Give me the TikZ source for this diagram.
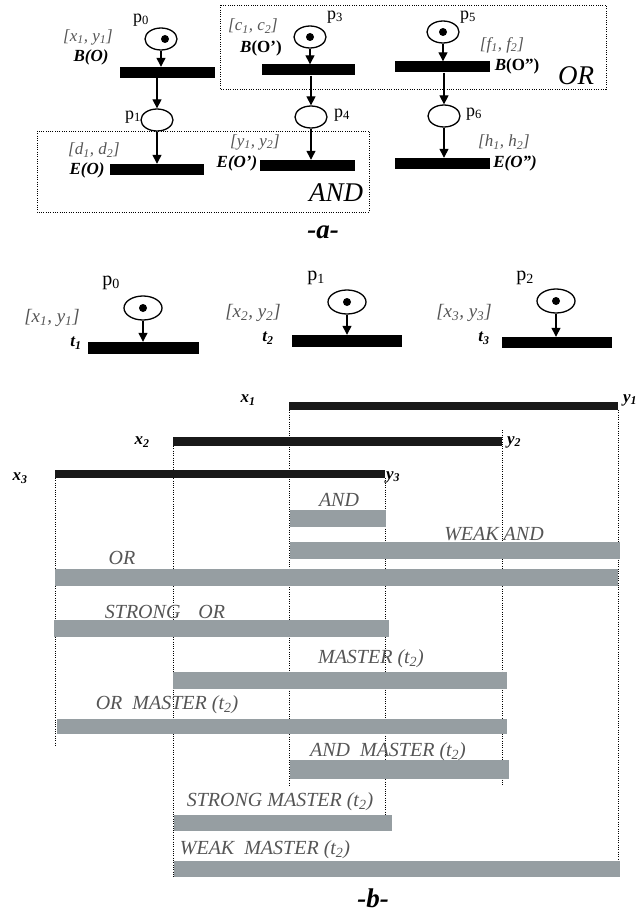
\documentclass[tikz,border=0pt]{standalone}
\usepackage{fontspec}
\setmainfont{Liberation Serif}
\usetikzlibrary{shapes.geometric,arrows.meta}
\definecolor{barg}{RGB}{150,158,162}
\definecolor{lblg}{RGB}{85,85,85}
\tikzset{
 place/.style={draw, ellipse, line width=1.3pt, minimum width=32pt, minimum height=22pt, inner sep=0pt},
 bplace/.style={place, minimum width=38pt, minimum height=24pt},
 token/.style={circle, fill=black, minimum size=8pt, inner sep=0pt},
 trans/.style={fill=black, rectangle, inner sep=0pt},
 arc/.style={-{Triangle[length=9pt,width=9pt]}, line width=1.3pt},
 plab/.style={font=\fontsize{18}{20}\selectfont, inner sep=0pt},
 bplab/.style={font=\fontsize{20}{22}\selectfont, inner sep=0pt},
 ilab/.style={font=\fontsize{17}{19}\selectfont\itshape, text=lblg, inner sep=0pt},
 bilab/.style={font=\fontsize{19}{21}\selectfont\itshape, text=lblg, inner sep=0pt},
 blab/.style={font=\fontsize{17}{19}\selectfont\bfseries\itshape, inner sep=0pt},
 xlab/.style={font=\fontsize{17}{19}\selectfont\bfseries\itshape, inner sep=0pt},
 dotbox/.style={dash pattern=on 1pt off 1.3pt, line width=0.9pt},
 vdot/.style={dash pattern=on 1pt off 1.3pt, line width=0.9pt},
 gbar/.style={fill=barg},
 kbar/.style={fill=black!90},
 glab/.style={font=\fontsize{20}{22}\selectfont\itshape, text=lblg, inner sep=0pt},
 biglab/.style={font=\fontsize{27}{29}\selectfont\itshape, inner sep=0pt},
 figcap/.style={font=\fontsize{27}{29}\selectfont\bfseries\itshape, inner sep=0pt},
}
\begin{document}
\begin{tikzpicture}[x=1pt,y=-1pt]
\useasboundingbox (0,0) rectangle (637,915);
\clip (0,0) rectangle (637,915);
% ---------------- part a ----------------
\draw[dotbox] (220,5) rectangle (606,89);
\draw[dotbox] (37,131) rectangle (369,212);
% places
\node[place] (p0) at (161,39) {};
\node[token] (k0) at (165,39) {};
\node[place] (p1) at (157,120) {};
\node[place] (p3) at (310,37) {};
\node[token] (k3) at (310,37) {};
\node[place] (p4) at (311,117) {};
\node[place] (p5) at (443,32) {};
\node[token] (k5) at (443,32) {};
\node[place] (p6) at (444,116) {};
% transitions
\node[trans, minimum width=95pt, minimum height=11pt] (tBO) at (167.5,72.5) {};
\node[trans, minimum width=94pt, minimum height=11pt] (tEO) at (157,169.5) {};
\node[trans, minimum width=93pt, minimum height=11pt] (tBO1) at (308.5,70) {};
\node[trans, minimum width=95pt, minimum height=11pt] (tEO1) at (307.5,165.5) {};
\node[trans, minimum width=95pt, minimum height=11pt] (tBO2) at (442.5,67) {};
\node[trans, minimum width=95pt, minimum height=11pt] (tEO2) at (442.5,163.5) {};
% arcs
\draw[arc] (p0.south) -- (p0.south |- tBO.north);
\draw[arc] (p1.north |- tBO.south) -- (p1.north);
\draw[arc] (p1.south) -- (p1.south |- tEO.north);
\draw[arc] (p3.south) -- (p3.south |- tBO1.north);
\draw[arc] (p4.north |- tBO1.south) -- (p4.north);
\draw[arc] (p4.south) -- (p4.south |- tEO1.north);
\draw[arc] (p5.south) -- (p5.south |- tBO2.north);
\draw[arc] (p6.north |- tBO2.south) -- (p6.north);
\draw[arc] (p6.south) -- (p6.south |- tEO2.north);
% labels
\node[plab] (lp0) at (141,20) {p\textsubscript{0}};
\node[plab] (lp1) at (133,117) {p\textsubscript{1}};
\node[plab] (lp3) at (335,17) {p\textsubscript{3}};
\node[plab] (lp4) at (342,115) {p\textsubscript{4}};
\node[plab] (lp5) at (468,17) {p\textsubscript{5}};
\node[plab] (lp6) at (474,114) {p\textsubscript{6}};
\node[ilab] (ix1) at (88,37) {[x\textsubscript{1}, y\textsubscript{1}]};
\node[blab] (bo) at (91,57) {B(O)};
\node[ilab] (id1) at (94,150) {[d\textsubscript{1}, d\textsubscript{2}]};
\node[blab] (eo) at (87,170) {E(O)};
\node[ilab] (ic1) at (253,26) {[c\textsubscript{1}, c\textsubscript{2}]};
\node[blab] (bo1) at (261,48) {B\upshape(O’)};
\node[ilab] (iy1) at (255,142) {[y\textsubscript{1}, y\textsubscript{2}]};
\node[blab] (eo1) at (237,163) {E(O’)};
\node[ilab] (if1) at (502,45) {[f\textsubscript{1}, f\textsubscript{2}]};
\node[blab] (bo2) at (517,66) {B\upshape(O”)};
\node[ilab] (ih1) at (504,142) {[h\textsubscript{1}, h\textsubscript{2}]};
\node[blab] (eo2) at (515,163) {E(O”)};
\node[biglab] (orl) at (576,76) {OR};
\node[biglab] (andl) at (336,193) {AND};
\node[figcap] (capa) at (323,232) {-a-};
% ---------------- part b top ----------------
\node[bplace] (q0) at (143,308) {};
\node[token] (m0) at (143,308) {};
\node[bplace] (q1) at (347,302) {};
\node[token] (m1) at (347,302) {};
\node[bplace] (q2) at (556,301) {};
\node[token] (m2) at (556,301) {};
\node[trans, minimum width=111pt, minimum height=12pt] (t1) at (143.5,348) {};
\node[trans, minimum width=110pt, minimum height=12pt] (t2) at (347,341) {};
\node[trans, minimum width=110pt, minimum height=11pt] (t3) at (557,342.5) {};
\draw[arc] (q0.south) -- (q0.south |- t1.north);
\draw[arc] (q1.south) -- (q1.south |- t2.north);
\draw[arc] (q2.south) -- (q2.south |- t3.north);
\node[bplab] (lq0) at (111,283) {p\textsubscript{0}};
\node[bplab] (lq1) at (316,278) {p\textsubscript{1}};
\node[bplab] (lq2) at (525,278) {p\textsubscript{2}};
\node[bilab] (jx1) at (52,318) {[x\textsubscript{1}, y\textsubscript{1}]};
\node[xlab] (lt1) at (76,343) {t\textsubscript{1}};
\node[bilab] (jx2) at (253,313) {[x\textsubscript{2}, y\textsubscript{2}]};
\node[xlab] (lt2) at (268,338) {t\textsubscript{2}};
\node[bilab] (jx3) at (464,313) {[x\textsubscript{3}, y\textsubscript{3}]};
\node[xlab] (lt3) at (484,338) {t\textsubscript{3}};
% ---------------- part b timeline ----------------
\draw[vdot] (55,478) -- (55,745);
\draw[vdot] (173,446) -- (173,877);
\draw[vdot] (289,410) -- (289,787);
\draw[vdot] (385,478) -- (385,815);
\draw[vdot] (502,430) -- (502,785);
\draw[vdot] (618,410) -- (618,861);
\fill[kbar] (289,402) rectangle (618,410);
\fill[kbar] (173,437) rectangle (502,446);
\fill[kbar] (55,470) rectangle (385,478);
\node[xlab] (lx1) at (248,400) {x\textsubscript{1}};
\node[xlab] (ly1) at (630,400) {y\textsubscript{1}};
\node[xlab] (lx2) at (142,442) {x\textsubscript{2}};
\node[xlab] (ly2) at (514,442) {y\textsubscript{2}};
\node[xlab] (lx3) at (20,478) {x\textsubscript{3}};
\node[xlab] (ly3) at (393,477) {y\textsubscript{3}};
\fill[gbar] (290,510) rectangle (386,527);
\fill[gbar] (290,542) rectangle (620,559);
\fill[gbar] (55,569) rectangle (618,586);
\fill[gbar] (54,620) rectangle (389,637);
\fill[gbar] (173,672) rectangle (507,689);
\fill[gbar] (57,719) rectangle (507,734);
\fill[gbar] (290,760) rectangle (509,779);
\fill[gbar] (174,815) rectangle (392,831);
\fill[gbar] (174,861) rectangle (620,877);
\node[glab] (g1) at (339,500) {AND};
\node[glab] (g2) at (494,534) {WEAK AND};
\node[glab] (g3) at (122,558) {OR};
\node[glab] (g4) at (165,612) {STRONG\hspace{0.9em}OR};
\node[glab] (g5) at (371,659) {MASTER (t\textsubscript{2})};
\node[glab] (g6) at (167,705) {OR\hspace{0.5em}MASTER (t\textsubscript{2})};
\node[glab] (g7) at (388,752) {AND\hspace{0.5em}MASTER (t\textsubscript{2})};
\node[glab] (g8) at (280,802) {STRONG MASTER (t\textsubscript{2})};
\node[glab] (g9) at (265,850) {WEAK\hspace{0.5em}MASTER (t\textsubscript{2})};
\node[figcap] (capb) at (373,898) {-b-};
\end{tikzpicture}
\end{document}
